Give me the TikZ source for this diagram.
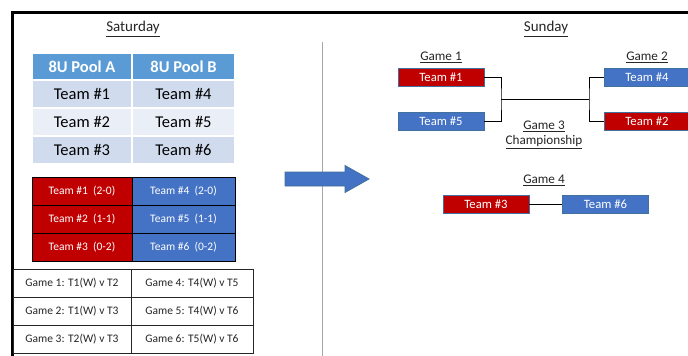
\documentclass[tikz,border=0pt]{standalone}
\usepackage{fontspec}
\setmainfont{Carlito}
\definecolor{poolhead}{HTML}{5B9BD5}
\definecolor{rowdark}{HTML}{D0DCEE}
\definecolor{rowlight}{HTML}{E9EEF7}
\definecolor{tred}{HTML}{C00000}
\definecolor{tblue}{HTML}{4472C4}
\definecolor{tedge}{HTML}{41719C}
\definecolor{sepgray}{HTML}{A6A6A6}
\begin{document}
\begin{tikzpicture}[x=1pt,y=-1pt,
  cell/.style={rectangle,inner sep=0pt,anchor=center},
  poolhd/.style={cell,fill=poolhead,draw=white,line width=1.2pt,text=white,font=\fontsize{16.5}{18}\bfseries\selectfont,minimum height=27pt},
  poolrow/.style={cell,draw=white,line width=1.2pt,text=black,font=\fontsize{16.5}{18}\selectfont,minimum height=28pt},
  rescell/.style={cell,draw=black,line width=0.8pt,text=white,font=\fontsize{11.5}{13}\selectfont,minimum height=28pt},
  gamecell/.style={cell,draw=black!85,line width=0.8pt,text=black!85,font=\fontsize{11.5}{13}\selectfont,minimum height=28pt},
  teambox/.style={cell,draw=tedge,line width=0.8pt,text=white,font=\fontsize{12.7}{14}\selectfont,minimum width=86pt,minimum height=18pt},
  redbox/.style={teambox,fill=tred},
  bluebox/.style={teambox,fill=tblue},
  heading/.style={text=black!85,font=\fontsize{15}{17}\selectfont,inner sep=0pt},
  gamelbl/.style={text=black!85,font=\fontsize{13.2}{15}\selectfont,inner sep=0pt,align=center},
  link/.style={draw=black,line width=0.9pt}
]
\clip (0,0) rectangle (688,356);
\fill[white] (0,0) rectangle (688,356);

% frame
\draw[line width=3pt,black] (12.5,360) -- (12.5,12.5) -- (692,12.5);

% separator
\coordinate (sepT) at (322,42);
\coordinate (sepB) at (322,360);
\draw[sepgray,line width=1pt] (sepT) -- (sepB);

% headings
\node[heading] (sat) at (133,29) {\underline{Saturday}};
\node[heading] (sun) at (546,29) {\underline{Sunday}};

% pool table
\node[poolhd,minimum width=100pt] (pa) at (82,66.5) {8U Pool A};
\node[poolhd,minimum width=103pt] (pb) at (183.5,66.5) {8U Pool B};
\node[poolrow,fill=rowdark,minimum width=100pt] (pa1) at (82,94) {Team \#1};
\node[poolrow,fill=rowdark,minimum width=103pt] (pb1) at (183.5,94) {Team \#4};
\node[poolrow,fill=rowlight,minimum width=100pt] (pa2) at (82,122) {Team \#2};
\node[poolrow,fill=rowlight,minimum width=103pt] (pb2) at (183.5,122) {Team \#5};
\node[poolrow,fill=rowdark,minimum width=100pt] (pa3) at (82,150) {Team \#3};
\node[poolrow,fill=rowdark,minimum width=103pt] (pb3) at (183.5,150) {Team \#6};

% results table
\node[rescell,fill=tred,minimum width=100pt] (ra1) at (82,191) {Team \#1\ \ (2-0)};
\node[rescell,fill=tblue,minimum width=103pt] (rb1) at (183.5,191) {Team \#4\ \ (2-0)};
\node[rescell,fill=tred,minimum width=100pt] (ra2) at (82,219) {Team \#2\ \ (1-1)};
\node[rescell,fill=tblue,minimum width=103pt] (rb2) at (183.5,219) {Team \#5\ \ (1-1)};
\node[rescell,fill=tred,minimum width=100pt] (ra3) at (82,247) {Team \#3\ \ (0-2)};
\node[rescell,fill=tblue,minimum width=103pt] (rb3) at (183.5,247) {Team \#6\ \ (0-2)};

% games table
\node[gamecell,fill=white,minimum width=118pt] (ga1) at (72,283) {Game 1: T1(W) v T2};
\node[gamecell,fill=white,minimum width=122pt] (gb1) at (192,283) {Game 4: T4(W) v T5};
\node[gamecell,fill=white,minimum width=118pt] (ga2) at (72,311) {Game 2: T1(W) v T3};
\node[gamecell,fill=white,minimum width=122pt] (gb2) at (192,311) {Game 5: T4(W) v T6};
\node[gamecell,fill=white,minimum width=118pt] (ga3) at (72,339) {Game 3: T2(W) v T3};
\node[gamecell,fill=white,minimum width=122pt] (gb3) at (192,339) {Game 6: T5(W) v T6};

% big arrow
\filldraw[fill=tblue,draw=tedge,line width=0.8pt]
  (285,172) -- (345,172) -- (345,165.5) -- (369,179) -- (345,192.5) -- (345,186) -- (285,186) -- cycle;

% bracket
\node[gamelbl] (g1) at (441,57) {\underline{Game 1}};
\node[gamelbl] (g2) at (647,57) {\underline{Game 2}};
\node[redbox] (t1) at (441,77) {Team \#1};
\node[bluebox] (t5) at (441,121.5) {Team \#5};
\node[bluebox] (t4) at (647,77) {Team \#4};
\node[redbox] (t2) at (647,121.5) {Team \#2};
\coordinate (jL) at (501,99);
\coordinate (jR) at (589,99);
\draw[link] (t1.east) -| (jL) |- (t5.east);
\draw[link] (t4.west) -| (jR) |- (t2.west);
\draw[link] (jL) -- (jR);
\node[gamelbl] (g3) at (544,126) {\underline{Game 3}};
\node[gamelbl] (champ) at (544,142) {\underline{Championship}};

% game 4
\node[gamelbl] (g4) at (544,180) {\underline{Game 4}};
\node[redbox] (t3) at (486,204.5) {Team \#3};
\node[bluebox] (t6) at (605.5,204.5) {Team \#6};
\draw[link] (t3.east) -- (t6.west);
\end{tikzpicture}
\end{document}
